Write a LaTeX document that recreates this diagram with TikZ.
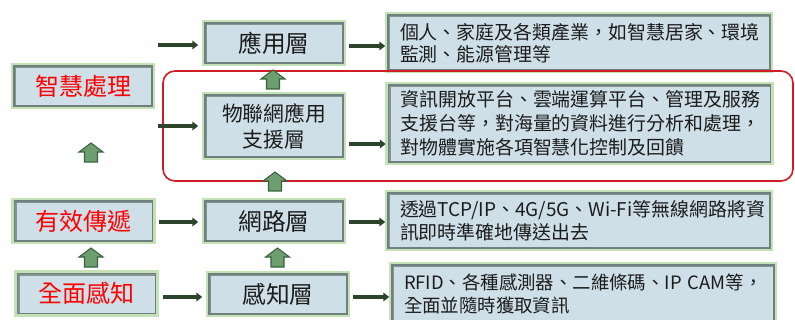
\documentclass[tikz,border=0pt]{standalone}
\usepackage{fontspec}
\setmainfont{Noto Sans CJK TC}
\usetikzlibrary{arrows.meta,calc}
\definecolor{boxfill}{RGB}{206,223,231}
\definecolor{boxline}{RGB}{112,128,126}
\definecolor{glowc}{RGB}{196,226,182}
\definecolor{arrowc}{RGB}{44,68,44}
\definecolor{bafill}{RGB}{108,158,112}
\definecolor{baline}{RGB}{58,98,62}
\definecolor{framec}{RGB}{208,28,34}
\definecolor{txt}{RGB}{28,28,28}
\begin{document}
\begin{tikzpicture}[x=0.75pt,y=-0.75pt,
  box/.style={draw=boxline, line width=1.1pt, fill=boxfill, inner sep=0pt,
    preaction={draw=glowc, line width=5pt},
    path picture={\draw[boxline!85, line width=3.2pt]
      (path picture bounding box.south west) -- (path picture bounding box.north west)
      -- (path picture bounding box.north east);}},
  lbox/.style={box, minimum width=103.5pt, minimum height=30pt, text=red,
    font=\fontsize{18}{20}\selectfont},
  mbox/.style={box, minimum width=103.5pt, minimum height=30pt, text=txt,
    font=\fontsize{17.8}{20}\selectfont},
  rbox/.style={box, minimum width=286.5pt, text width=268.5pt, inner xsep=9pt,
    align=left, text=txt, font=\fontsize{14.2}{17}\selectfont},
  conn/.style={draw=arrowc, line width=2.3pt, -{Triangle[length=4.5pt,width=6.5pt]}},
  uparr/.pic={\draw[fill=bafill, draw=baline, line width=0.8pt]
    (0,0) -- (12,9) -- (6.5,9) -- (6.5,19) -- (-6.5,19) -- (-6.5,9) -- (-12,9) -- cycle;}
]
\useasboundingbox (0,0) rectangle (795,320);

% left column
\node[lbox] (zh) at (83,86) {智慧處理};
\node[lbox] (yx) at (83.5,221) {有效傳遞};
\node[lbox] (qm) at (86.5,293.5) {全面感知};

% middle column
\node[mbox] (yy) at (274,43) {應用層};
\node[mbox, minimum height=46.5pt, align=center,
  font=\fontsize{15.6}{19.5}\selectfont] (wl) at (274,126) {物聯網應用\\支援層};
\node[mbox] (lu) at (274,221) {網路層};
\node[mbox] (gz) at (278,294) {感知層};

% right column
\node[rbox, minimum height=41.25pt, text depth=17pt] (r1) at (579,42.5)
  {\mbox{個人、家庭及各類產業，如智慧居家、環境}\\\mbox{監測、能源管理等}};
\node[rbox, minimum height=57.75pt, font=\fontsize{14.2}{18}\selectfont] (r2) at (579.5,123.5)
  {\mbox{資訊開放平台、雲端運算平台、管理及服務}\\\mbox{支援台等，對海量的資料進行分析和處理，}\\\mbox{對物體實施各項智慧化控制及回饋}};
\node[rbox, minimum height=41.25pt] (r3) at (579,220.5)
  {\mbox{透過TCP/IP、4G/5G、Wi-Fi等無線網路將資}\\\mbox{訊即時準確地傳送出去}};
\node[rbox, minimum height=43.5pt, font=\fontsize{13.8}{17}\selectfont] (r4) at (583,294)
  {\mbox{RFID、各種感測器、二維條碼、IP CAM等，}\\\mbox{全面並隨時獲取資訊}};

% red frame
\draw[framec, line width=1.2pt, rounded corners=9pt] (163,71) rectangle (793,181);

% level coordinates
\coordinate (a1) at (158,45);
\coordinate (a2) at (158,126);
\coordinate (b1) at (0,46);
\coordinate (b2) at (0,144);
\coordinate (b3) at (0,222);
\coordinate (b4) at (0,297);

% horizontal connectors
\draw[conn, shorten >=4.5pt] (a1) -- (a1 -| yy.west);
\draw[conn, shorten >=4.5pt] (a2) -- (a2 -| wl.west);
\draw[conn, shorten <=4.5pt, shorten >=4.5pt] (yx.east |- b3) -- (lu.west |- b3);
\draw[conn, shorten <=5pt, shorten >=4.5pt] (qm.east |- b4) -- (gz.west |- b4);
\draw[conn, shorten <=4pt, shorten >=1.5pt] (yy.east |- b1) -- (r1.west |- b1);
\draw[conn, shorten <=4pt, shorten >=1.5pt] (wl.east |- b2) -- (r2.west |- b2);
\draw[conn, shorten <=4pt, shorten >=1.5pt] (lu.east |- b3) -- (r3.west |- b3);
\draw[conn, shorten <=4pt, shorten >=1.5pt] (gz.east |- b4) -- (r4.west |- b4);

% block up arrows
\pic at (91,248) {uparr};
\pic at (91,143) {uparr};
\pic at (277.5,248) {uparr};
\pic at (275,172) {uparr};
\pic at (273,70) {uparr};
\end{tikzpicture}
\end{document}
